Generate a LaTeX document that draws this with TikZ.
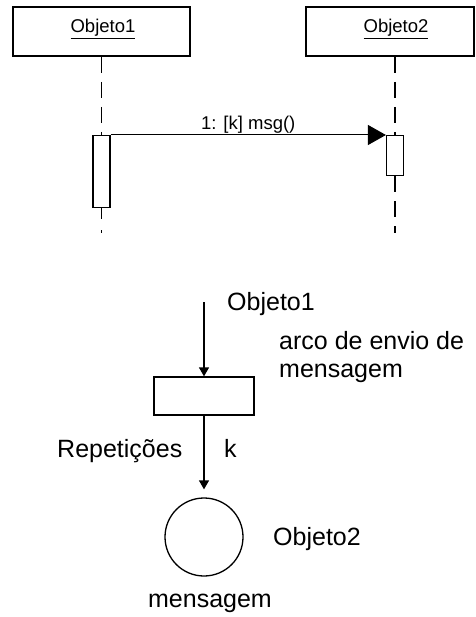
\documentclass[tikz,border=0pt]{standalone}
\usepackage{fontspec}
\setmainfont{Liberation Sans}
\usetikzlibrary{arrows.meta}
\begin{document}
\begin{tikzpicture}[x=1pt,y=-1pt,
  objbox/.style={draw, line width=2pt, minimum width=177pt, minimum height=49pt, inner sep=0pt},
  toplabel/.style={inner sep=0pt, anchor=base, font=\fontsize{18.5}{20}\selectfont},
  actbar/.style={draw, fill=white, line width=1.2pt, minimum width=17pt, inner sep=0pt},
  lifeline/.style={line width=1.2pt, dash pattern=on 16pt off 9pt},
  lifelinelow/.style={line width=1.2pt, dash pattern=on 11pt off 11pt on 4pt off 20pt},
  msgarrow/.style={line width=1pt, -{Triangle[length=18pt,width=20pt]}},
  flow/.style={line width=1.3pt, -{Triangle[length=9pt,width=10pt]}},
  bigtext/.style={inner sep=0pt, font=\fontsize{25}{28}\selectfont},
]
\useasboundingbox (0,0) rectangle (475,617);

% ---- sequence diagram ----
\node[objbox] (o1) at (101.5,31.5) {};
\node[objbox, minimum width=168pt] (o2) at (390,31.5) {};
\node[toplabel] (o1l) at (103,33) {\underline{Objeto1}};
\node[toplabel] (o2l) at (396,33) {\underline{Objeto2}};

\node[actbar, minimum height=72pt, anchor=north] (act1) at (101.5,135) {};
\node[actbar, minimum height=40pt, anchor=north] (act2) at (395,135) {};

\coordinate (l1end) at (101.5,233);
\coordinate (l2end) at (395,233);
\draw[lifeline] (o1.south) -- (act1.north);
\draw[lifelinelow] (act1.south) -- (l1end);
\draw[lifeline] (act2.north |- o2.south) -- (act2.north);
\draw[lifeline] (act2.south) -- (l2end);

\draw[msgarrow] (act1.north east) -- (act2.north west)
  node[midway, anchor=base, yshift=5pt, inner sep=0pt, font=\fontsize{18.5}{20}\selectfont] (ml) {1: [k] msg()};

% ---- net diagram ----
\coordinate (s1) at (204,302);
\node[draw, line width=1.3pt, minimum width=100pt, minimum height=38pt, inner sep=0pt] (t) at (204,396) {};
\node[draw, circle, line width=1.3pt, minimum size=78pt, inner sep=0pt] (m) at (204,537) {};
\draw[flow] (s1) -- (t.north);
\draw[flow, shorten >=8pt] (t.south) -- (m.north);

\node[bigtext, anchor=base west] (lo1) at (227,310) {Objeto1};
\node[bigtext, anchor=base west] (larc) at (279,349) {arco de envio de};
\node[bigtext, anchor=base west] (larc2) at (279,377) {mensagem};
\node[bigtext, anchor=base west] (lrep) at (57,457) {Repetições};
\node[bigtext, anchor=base west] (lk) at (224,457) {k};
\node[bigtext, anchor=base west] (lo2) at (273,545) {Objeto2};
\node[bigtext, anchor=base] (lmsg) at (210,607) {mensagem};
\end{tikzpicture}
\end{document}
